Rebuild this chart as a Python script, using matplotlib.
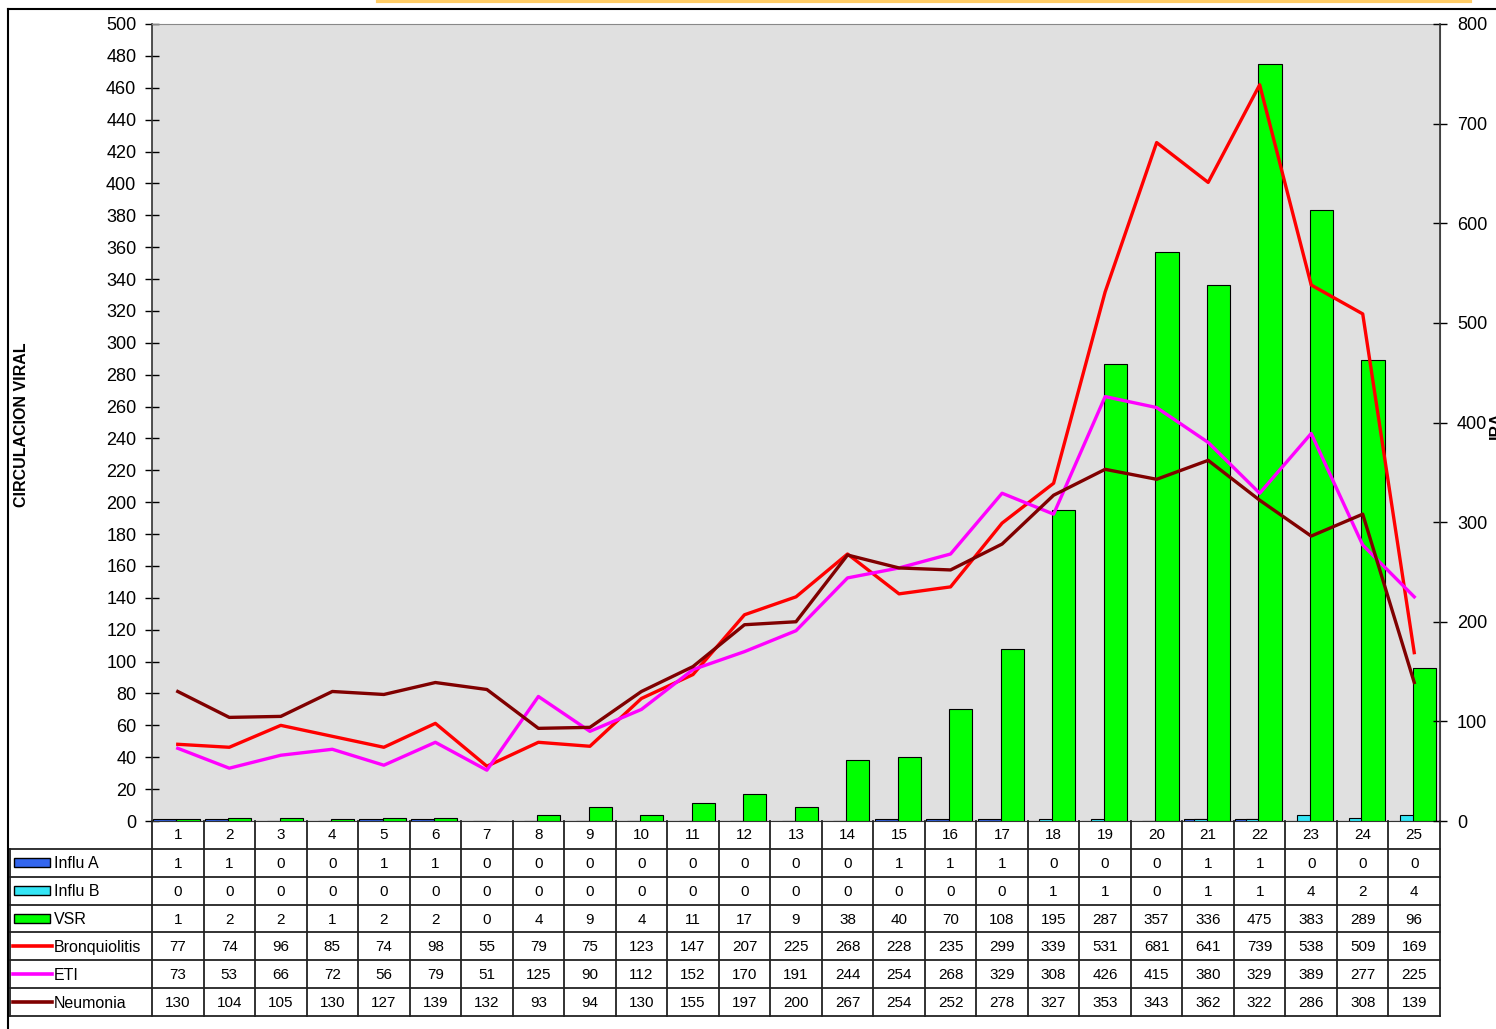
import matplotlib
matplotlib.use("Agg")
import matplotlib.pyplot as plt
from matplotlib.patches import Rectangle
from matplotlib.lines import Line2D
import numpy as np

plt.rcParams['font.family'] = ['Liberation Sans', 'DejaVu Sans']

weeks = [str(i) for i in range(1, 26)]
influ_a = [1, 1, 0, 0, 1, 1, 0, 0, 0, 0, 0, 0, 0, 0, 1, 1, 1, 0, 0, 0, 1, 1, 0, 0, 0]
influ_b = [0, 0, 0, 0, 0, 0, 0, 0, 0, 0, 0, 0, 0, 0, 0, 0, 0, 1, 1, 0, 1, 1, 4, 2, 4]
vsr = [1, 2, 2, 1, 2, 2, 0, 4, 9, 4, 11, 17, 9, 38, 40, 70, 108, 195, 287, 357, 336, 475, 383, 289, 96]
bronquiolitis = [77, 74, 96, 85, 74, 98, 55, 79, 75, 123, 147, 207, 225, 268, 228, 235, 299, 339, 531, 681, 641, 739, 538, 509, 169]
eti = [73, 53, 66, 72, 56, 79, 51, 125, 90, 112, 152, 170, 191, 244, 254, 268, 329, 308, 426, 415, 380, 329, 389, 277, 225]
neumonia = [130, 104, 105, 130, 127, 139, 132, 93, 94, 130, 155, 197, 200, 267, 254, 252, 278, 327, 353, 343, 362, 322, 286, 308, 139]

W, H = 1496, 1029
fig = plt.figure(figsize=(W / 100, H / 100), dpi=100)

def fx(px):
    return px / W

def fy(py):
    return 1 - py / H

x0, x1 = 152, 1440
ytop, ybot = 24, 821
ax = fig.add_axes([fx(x0), fy(ybot), fx(x1) - fx(x0), fy(ytop) - fy(ybot)])
ax.set_facecolor('#E0E0E0')
n = len(weeks)
x = np.arange(n)
bw = 0.45
c_a, c_b, c_v = '#3366EE', '#33E5F5', '#00FF00'
ax.bar(x - 0.25, influ_a, bw, color=c_a, edgecolor='black', linewidth=0.8, zorder=2)
ax.bar(x - 0.05, influ_b, bw, color=c_b, edgecolor='black', linewidth=0.8, zorder=3)
ax.bar(x + 0.2, vsr, bw, color=c_v, edgecolor='black', linewidth=0.8, zorder=4)
ax.set_xlim(-0.5, n - 0.5)
ax.set_ylim(0, 500)
ax.set_yticks(np.arange(0, 501, 20))
ax.tick_params(axis='y', direction='inout', length=9.5, width=1, labelsize=13, pad=6.5)
ax.set_xticks([])
for s in ['top', 'right']:
    ax.spines[s].set_color('#888888')
ax.spines['left'].set_color('#333333')
ax.spines['bottom'].set_color('#333333')
ax.spines['left'].set_linewidth(1.2)

ax2 = ax.twinx()
ax2.set_ylim(0, 800)
ax2.set_yticks(np.arange(0, 801, 100))
ax2.tick_params(axis='y', direction='inout', length=9.5, width=1, labelsize=13, pad=7.5)
ax2.spines['right'].set_color('#333333')
ax2.spines['right'].set_linewidth(1.2)
for s in ['top', 'left', 'bottom']:
    ax2.spines[s].set_visible(False)
c_br, c_eti, c_ne = '#FF0000', '#FF00FF', '#800000'
ax2.plot(x, bronquiolitis, color=c_br, lw=2.4, zorder=5)
ax2.plot(x, eti, color=c_eti, lw=2.4, zorder=5)
ax2.plot(x, neumonia, color=c_ne, lw=2.4, zorder=5)

fig.text(fx(22), fy(425), 'CIRCULACION VIRAL', rotation=90, fontsize=11.5, fontweight='bold',
         ha='center', va='center')
fig.text(fx(1489), fy(425), 'IRA', rotation=90, fontsize=11.5, fontweight='bold',
         ha='left', va='center')

# table axes
cw = (x1 - x0) / n
tleft = 10
tbot = 1016
tax = fig.add_axes([fx(tleft), fy(tbot), fx(x1) - fx(tleft), fy(ybot) - fy(tbot)])
xl = -0.5 - (x0 - tleft) / cw
tax.set_xlim(xl, n - 0.5)
nrows = 7
tax.set_ylim(nrows, 0)
tax.axis('off')
lc = '#222222'
for r in range(1, nrows + 1):
    tax.plot([xl, n - 0.5], [r, r], color=lc, lw=1.3, clip_on=False)
for i in range(n + 1):
    tax.plot([i - 0.5, i - 0.5], [0, nrows], color=lc, lw=1.3, clip_on=False)
tax.plot([xl, xl], [1, nrows], color=lc, lw=1.3, clip_on=False)
for i, w in enumerate(weeks):
    tax.text(i, 0.52, w, ha='center', va='center', fontsize=11)
rows = [('Influ A', influ_a, 'bar', c_a), ('Influ B', influ_b, 'bar', c_b), ('VSR', vsr, 'bar', c_v),
        ('Bronquiolitis', bronquiolitis, 'line', c_br), ('ETI', eti, 'line', c_eti),
        ('Neumonia', neumonia, 'line', c_ne)]
kx0 = xl + 4 / cw
kx1 = xl + 40 / cw
for r, (name, vals, kind, col) in enumerate(rows, start=1):
    yc = r + 0.5
    if kind == 'bar':
        tax.add_patch(Rectangle((kx0, yc - 0.16), kx1 - kx0, 0.32, facecolor=col, edgecolor='black',
                                lw=1.0, clip_on=False))
    else:
        tax.plot([kx0 - 1 / cw, xl + 42 / cw], [yc, yc], color=col, lw=2.6, clip_on=False)
    tax.text(xl + 44 / cw, yc + 0.04, name, ha='left', va='center', fontsize=11.5)
    for i, v in enumerate(vals):
        tax.text(i, yc + 0.04, str(v), ha='center', va='center', fontsize=11)

# outer frame and top accent
fig.add_artist(Line2D([fx(8), fx(W)], [fy(9), fy(9)], color='black', lw=1.5))
fig.add_artist(Line2D([fx(8), fx(8)], [fy(9), fy(H)], color='black', lw=1.5))
fig.add_artist(Line2D([fx(378), fx(1470)], [fy(0.5), fy(0.5)], color='#FFCC66', lw=3))

fig.savefig('out.png', dpi=100)
